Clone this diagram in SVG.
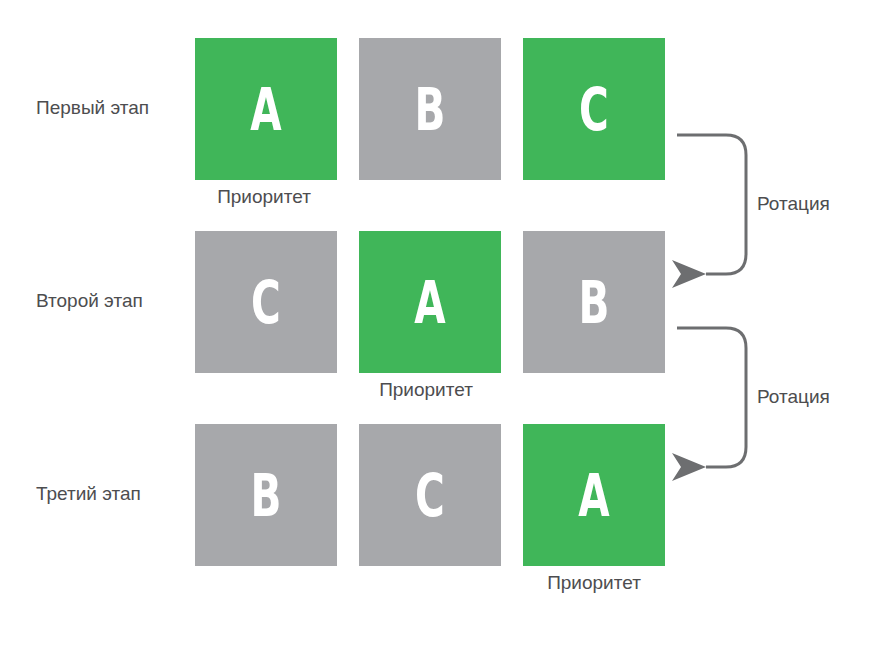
<svg xmlns="http://www.w3.org/2000/svg" width="871" height="651" viewBox="0 0 871 651">
<style>
.g{fill:#40b659}.r{fill:#a7a8ab}
.L{font-family:"DejaVu Sans",sans-serif;font-weight:bold;font-size:58px;fill:#fff;text-anchor:middle}
.t{font-family:"Liberation Sans",Arial,sans-serif;font-size:19px;fill:#4d4d4f}
.p{font-family:"Liberation Sans",Arial,sans-serif;font-size:19px;fill:#4d4d4f;text-anchor:middle}
.c{fill:none;stroke:#6d6e70;stroke-width:3}
</style>
<defs><marker id="ah" markerUnits="userSpaceOnUse" markerWidth="40" markerHeight="30" refX="0" refY="14" orient="auto-start-reverse"><path d="M0,14 L34,0 L25,14 L34,28 Z" fill="#6d6e70"/></marker></defs>
<rect width="871" height="651" fill="#fff"/>
<text class="t" x="36" y="114">Первый этап</text>
<text class="t" x="36" y="307">Второй этап</text>
<text class="t" x="36" y="500">Третий этап</text>
<g id="n1"><rect class="g" x="195" y="38" width="142" height="142"/><text class="L" transform="translate(266,130) scale(0.7,1)">A</text></g>
<g id="n2"><rect class="r" x="359" y="38" width="142" height="142"/><text class="L" transform="translate(430,130) scale(0.7,1)">B</text></g>
<g id="n3"><rect class="g" x="523" y="38" width="142" height="142"/><text class="L" transform="translate(594,130) scale(0.7,1)">C</text></g>
<g id="n4"><rect class="r" x="195" y="231" width="142" height="142"/><text class="L" transform="translate(266,323) scale(0.7,1)">C</text></g>
<g id="n5"><rect class="g" x="359" y="231" width="142" height="142"/><text class="L" transform="translate(430,323) scale(0.7,1)">A</text></g>
<g id="n6"><rect class="r" x="523" y="231" width="142" height="142"/><text class="L" transform="translate(594,323) scale(0.7,1)">B</text></g>
<g id="n7"><rect class="r" x="195" y="424" width="142" height="142"/><text class="L" transform="translate(266,516) scale(0.7,1)">B</text></g>
<g id="n8"><rect class="r" x="359" y="424" width="142" height="142"/><text class="L" transform="translate(430,516) scale(0.7,1)">C</text></g>
<g id="n9"><rect class="g" x="523" y="424" width="142" height="142"/><text class="L" transform="translate(594,516) scale(0.7,1)">A</text></g>
<text class="p" x="264" y="203">Приоритет</text>
<text class="p" x="426" y="396">Приоритет</text>
<text class="p" x="594" y="589">Приоритет</text>
<g id="connectors">
<path class="c" d="M677,135 H726 Q746,135 746,155 V254 Q746,274 726,274 H706" marker-end="url(#ah)"/>
<path class="c" d="M677,328 H726 Q746,328 746,348 V447 Q746,467 726,467 H706" marker-end="url(#ah)"/>
<text class="t" x="757" y="210">Ротация</text>
<text class="t" x="757" y="403">Ротация</text>
</g>
</svg>
